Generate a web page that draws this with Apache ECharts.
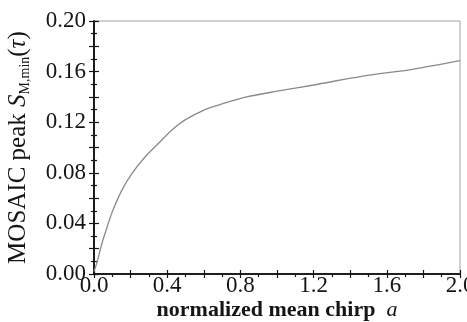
<!DOCTYPE html>
<html>
<head>
<meta charset="utf-8">
<script src="https://cdn.jsdelivr.net/npm/echarts@6/dist/echarts.min.js"></script>
<style>
  html, body { margin: 0; padding: 0; background: #fff; }
  #chart { width: 467px; height: 322px; }
</style>
</head>
<body>
<div id="chart"></div>
<script>
// normalized mean chirp a
const chirp = [0, 0.016, 0.044, 0.071, 0.098, 0.153, 0.208, 0.28, 0.353, 0.426, 0.5, 0.607, 0.7, 0.834, 1.0, 1.2, 1.47, 1.74, 2.0]
// MOSAIC peak value
const peak = [0.002, 0.009, 0.0245, 0.0368, 0.0485, 0.0665, 0.0796, 0.0927, 0.1033, 0.1138, 0.122, 0.130, 0.1345, 0.140, 0.1445, 0.1494, 0.1565, 0.1618, 0.1686]
const xLabels = ['0.0', '0.4', '0.8', '1.2', '1.6', '2.0']
const yLabels = ['0.00', '0.04', '0.08', '0.12', '0.16', '0.20']

const serif = '"Liberation Serif", "DejaVu Serif", serif'
const ink = '#151515'

const myChart = echarts.init(document.getElementById('chart'))

const fmt = (labels, step) => (v) => {
  const k = Math.round(v / step)
  return Math.abs(v - k * step) < 1e-6 ? labels[k] : ''
}

const baseAxis = {
  type: 'value',
  axisLine: { show: true, lineStyle: { color: ink, width: 1.6 } },
  splitLine: { show: false },
  minorSplitLine: { show: false }
}

myChart.setOption({
  animation: false,
  backgroundColor: '#fff',
  grid: {
    left: 94, right: 7, top: 21, bottom: 48,
    outerBoundsMode: 'none',
    show: true, borderColor: '#a0a0a0', borderWidth: 1
  },
  xAxis: [
    {
      ...baseAxis,
      min: 0, max: 2, interval: 0.2,
      name: '{n|normalized mean chirp  }{i|a}',
      nameLocation: 'middle',
      nameMoveOverlap: false,
      nameGap: 25,
      nameTextStyle: {
        rich: {
          n: { fontFamily: serif, fontSize: 22, color: ink, fontWeight: 'bold' },
          i: { fontFamily: serif, fontSize: 22, color: ink, fontStyle: 'italic' }
        }
      },
      axisTick: { show: true, inside: false, length: 4, lineStyle: { color: ink, width: 1.2 } },
      minorTick: { show: true, splitNumber: 2, length: 3, lineStyle: { color: ink, width: 1.2 } },
      axisLabel: {
        formatter: fmt(xLabels, 0.4),
        fontFamily: serif, fontSize: 23, color: ink, margin: 0
      }
    },
    {
      ...baseAxis,
      position: 'bottom',
      min: 0, max: 2, interval: 0.2,
      axisTick: { show: true, inside: true, length: 4, lineStyle: { color: ink, width: 1.2 } },
      axisLabel: { show: false }
    }
  ],
  yAxis: [
    {
      ...baseAxis,
      min: 0, max: 0.2, interval: 0.02,
      name: '{n|MOSAIC peak }{i|S}{s|M,min}{n|(}{t|τ}{n|)}',
      nameLocation: 'middle',
      nameMoveOverlap: false,
      nameGap: 62,
      nameRotate: 90,
      nameTextStyle: {
        rich: {
          n: { fontFamily: serif, fontSize: 25, color: ink },
          i: { fontFamily: serif, fontSize: 25, color: ink, fontStyle: 'italic' },
          s: { fontFamily: serif, fontSize: 14, color: ink, padding: [13, 0, 0, 0] },
          t: { fontFamily: serif, fontSize: 25, color: ink, fontStyle: 'italic' }
        }
      },
      axisTick: { show: true, inside: false, length: 5, lineStyle: { color: ink, width: 1.2 } },
      minorTick: { show: true, splitNumber: 2, length: 3, lineStyle: { color: ink, width: 1.2 } },
      axisLabel: {
        formatter: fmt(yLabels, 0.04),
        fontFamily: serif, fontSize: 23, color: ink, margin: 8
      }
    },
    {
      ...baseAxis,
      position: 'left',
      min: 0, max: 0.2, interval: 0.02,
      axisTick: { show: true, inside: true, length: 5, lineStyle: { color: ink, width: 1.2 } },
      minorTick: { show: true, splitNumber: 2, length: 3, lineStyle: { color: ink, width: 1.2 } },
      axisLabel: { show: false }
    }
  ],
  series: [
    {
      type: 'line',
      smooth: 0.3,
      showSymbol: false,
      lineStyle: { color: '#8a8a8a', width: 1.3 },
      data: chirp.map((a, i) => [a, peak[i]])
    }
  ]
})

window.addEventListener('resize', () => {
  myChart.resize()
})
</script>
</body>
</html>
